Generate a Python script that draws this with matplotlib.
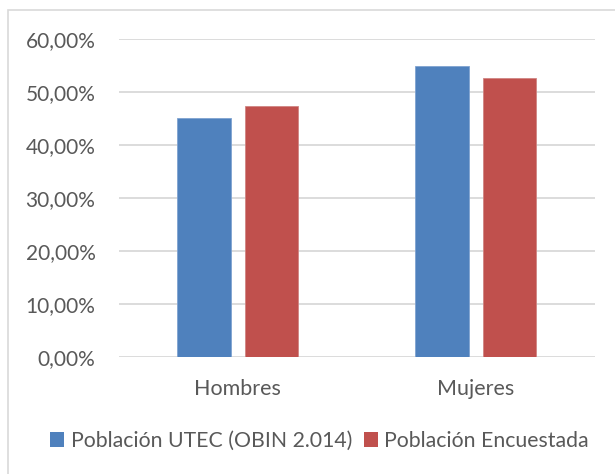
import matplotlib
matplotlib.use("Agg")
import matplotlib.pyplot as plt
import numpy as np
from matplotlib.patches import Rectangle, Patch
from matplotlib.ticker import FuncFormatter

categories = ["Hombres", "Mujeres"]
series_names = ["Población UTEC (OBIN 2.014)", "Población Encuestada"]
utec = [0.4515, 0.5485]
encuestada = [0.473, 0.527]
y_ticks = [0.0, 0.1, 0.2, 0.3, 0.4, 0.5, 0.6]

blue = "#4F81BD"
red = "#C0504D"
text_gray = "#595959"
grid_gray = "#D9D9D9"

plt.rcParams["font.family"] = ["Lato", "DejaVu Sans"]

W, H = 615, 474
fig = plt.figure(figsize=(W / 100, H / 100), dpi=100)

# chart frame
fig.patches.append(Rectangle((8 / W, -0.05), 1.1, 1 - 10 / H + 0.05,
                             transform=fig.transFigure, fill=False,
                             edgecolor="#D9D9D9", linewidth=1.2))

ax = fig.add_axes([119 / W, 1 - 356.7 / H, (594.5 - 119) / W, (356.7 - 39) / H])

x = np.arange(len(categories))
width = 0.225
offset = 0.142
ax.bar(x - offset, utec, width, color=blue, edgecolor="#7FA3D1", linewidth=0.6, zorder=3)
ax.bar(x + offset, encuestada, width, color=red, edgecolor="#D08583", linewidth=0.6, zorder=3)

ax.set_xlim(-0.5, 1.5)
ax.set_ylim(0, 0.6)
ax.set_yticks(y_ticks)
ax.yaxis.set_major_formatter(FuncFormatter(lambda v, p: f"{v*100:.2f}%".replace(".", ",")))
ax.set_xticks(x)
ax.set_xticklabels(categories)
ax.grid(axis="y", color=grid_gray, linewidth=1.3, zorder=0)
for s in ax.spines.values():
    s.set_visible(False)
ax.tick_params(axis="both", length=0, labelcolor=text_gray)
ax.tick_params(axis="y", pad=17, labelsize=15)
ax.tick_params(axis="x", pad=16, labelsize=15.5)

handles = [Patch(facecolor=blue), Patch(facecolor=red)]
fig.legend(handles, series_names, loc="center", bbox_to_anchor=(319.5 / W, 1 - 441 / H),
           ncol=2, frameon=False, fontsize=15.3, labelcolor=text_gray,
           handlelength=0.66, handleheight=0.66, handletextpad=0.3,
           columnspacing=0.55, borderpad=0)

fig.savefig("out.png", dpi=100, facecolor="white")
